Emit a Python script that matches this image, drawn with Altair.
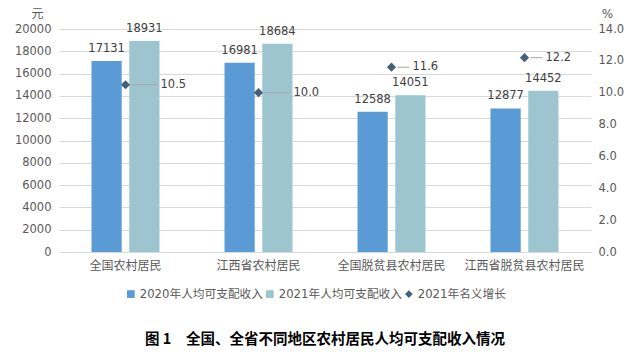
import altair as alt
import pandas as pd

categories = ["全国农村居民", "江西省农村居民", "全国脱贫县农村居民", "江西省脱贫县农村居民"]
income_2020 = [17131, 16981, 12588, 12877]
income_2021 = [18931, 18684, 14051, 14452]
growth_2021 = [10.5, 10.0, 11.6, 12.2]
series_names = ["2020年人均可支配收入", "2021年人均可支配收入", "2021年名义增长"]
left_ticks = list(range(0, 20001, 2000))
right_ticks = [0, 2, 4, 6, 8, 10, 12, 14]

rows = []
for c, a, b in zip(categories, income_2020, income_2021):
    rows.append({"cat": c, "series": series_names[0], "value": a})
    rows.append({"cat": c, "series": series_names[1], "value": b})
bars_df = pd.DataFrame(rows)
growth_df = pd.DataFrame({"cat": categories, "rate": growth_2021, "inc2021": income_2021,
                          "series": series_names[2]})

FONT = "DejaVu Sans, Noto Sans CJK SC"
CJK = "Noto Sans CJK SC"
GRID = "#d9d9d9"
TXT = "#595959"

def make_legend():
    return alt.Legend(title=None, orient="none", direction="horizontal",
                      legendX=66, legendY=259, labelFont=FONT, labelFontSize=11.7,
                      labelColor=TXT, symbolSize=60, symbolStrokeWidth=0,
                      columnPadding=1, labelOffset=3)

color_scale = alt.Scale(domain=series_names, range=["#5b9bd5", "#9cc5cf", "#456179"])
shape_scale = alt.Scale(domain=series_names, range=["square", "square", "diamond"])

def xenc():
    return alt.X("cat:N", sort=categories, title=None,
                 scale=alt.Scale(paddingInner=0.489, paddingOuter=0.2445),
                 axis=alt.Axis(labelFont=CJK, labelFontSize=12, labelColor=TXT, labelPadding=8,
                               ticks=False, domainColor=GRID, labelAngle=0))

def yleft():
    return alt.Y("value:Q", scale=alt.Scale(domain=[0, 20000]),
                 axis=alt.Axis(values=left_ticks, format="d", labelOverlap=False,
                               title="元", titleAngle=0, titleX=-22, titleY=-16,
                               titleFont=CJK, titleFontSize=12, titleFontWeight="normal", titleColor=TXT,
                               titleAlign="center", titleBaseline="middle",
                               labelFont=FONT, labelFontSize=11.5, labelColor=TXT, labelPadding=8,
                               ticks=False, domain=False, grid=True, gridColor=GRID))

def yright():
    return alt.Y("rate:Q", scale=alt.Scale(domain=[0, 14]),
                 axis=alt.Axis(orient="right", values=right_ticks, format=".1f", labelOverlap=False,
                               title="%", titleAngle=0,
                               titleX=16, titleY=-16, titleFont=FONT, titleFontSize=12,
                               titleFontWeight="normal", titleColor=TXT, titleAlign="center",
                               titleBaseline="middle", labelFont=FONT, labelFontSize=11.5,
                               labelColor=TXT, labelPadding=7, ticks=False, domain=False, grid=False))

base_bars = alt.Chart(bars_df)
bars = base_bars.mark_bar().encode(
    x=xenc(), y=yleft(),
    color=alt.Color("series:N", scale=color_scale, legend=make_legend()),
    xOffset=alt.XOffset("series:N", sort=series_names[:2], scale=alt.Scale(paddingInner=0.2, paddingOuter=0)),
)
bar_labels = base_bars.mark_text(baseline="bottom", dy=-7, font=FONT, fontSize=11.5, color="#404040").encode(
    x=xenc(), y=yleft(),
    xOffset=alt.XOffset("series:N", sort=series_names[:2]),
    text=alt.Text("value:Q", format="d"),
)
left = alt.layer(bars, bar_labels)

base_g = alt.Chart(growth_df)
pts = base_g.mark_point(filled=True, size=85, opacity=1).encode(
    x=xenc(), y=yright(),
    color=alt.Color("series:N", scale=color_scale, legend=make_legend()),
    shape=alt.Shape("series:N", scale=shape_scale, legend=make_legend()),
)
above = "datum.rate / 14 > datum.inc2021 / 20000"
below = "datum.rate / 14 <= datum.inc2021 / 20000"
rule_far = base_g.transform_filter(below).mark_rule(color="#a6a6a6", strokeWidth=1, xOffset=6, x2Offset=32).encode(
    x=xenc(), x2=alt.X2("cat"), y=yright())
rule_near = base_g.transform_filter(above).mark_rule(color="#a6a6a6", strokeWidth=1, xOffset=6, x2Offset=18).encode(
    x=xenc(), x2=alt.X2("cat"), y=yright())
txt_far = base_g.transform_filter(below).mark_text(align="left", baseline="middle", dx=35, font=FONT,
                                                   fontSize=11.5, color="#404040").encode(
    x=xenc(), y=yright(), text=alt.Text("rate:Q", format=".1f"))
txt_near = base_g.transform_filter(above).mark_text(align="left", baseline="middle", dx=21, font=FONT,
                                                    fontSize=11.5, color="#404040").encode(
    x=xenc(), y=yright(), text=alt.Text("rate:Q", format=".1f"))
right = alt.layer(pts, rule_far, rule_near, txt_far, txt_near)

chart = alt.layer(left, right).resolve_scale(y="independent").properties(
    width=532, height=223,
    autosize=alt.AutoSizeParams(type="none"),
    padding={"left": 59, "top": 29, "right": 45, "bottom": 100},
    title=alt.TitleParams("图 1\u3000全国、全省不同地区农村居民人均可支配收入情况", orient="bottom",
                          anchor="middle", offset=32, font=CJK, fontSize=14.5, fontWeight="bold",
                          color="#000000"),
).configure_view(stroke=None)

chart.save("out.html", embed_options={"renderer": "svg", "actions": False})
